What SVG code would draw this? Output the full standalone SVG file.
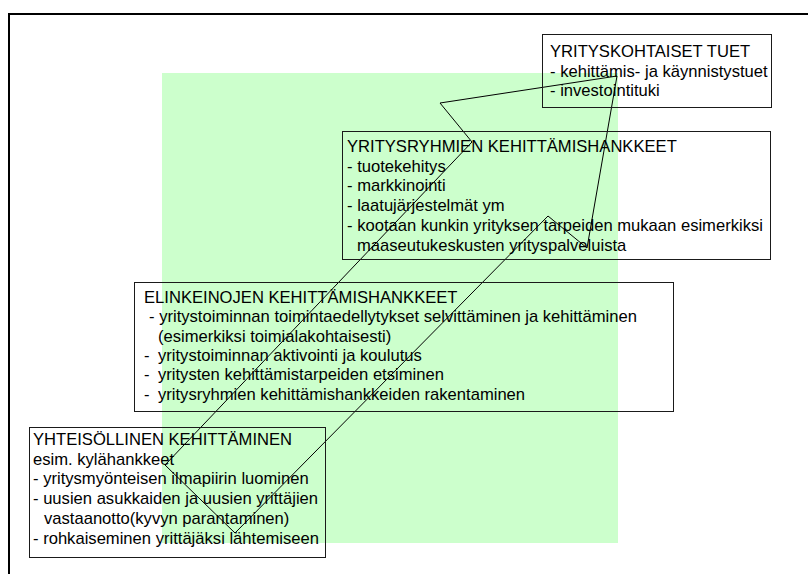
<svg xmlns="http://www.w3.org/2000/svg" width="808" height="574" viewBox="0 0 808 574">
  <style>
    .box { fill: none; stroke: #1a1a1a; stroke-width: 1; }
    .t { font-family: "Liberation Sans", Arial, sans-serif; font-size: 16.6px; fill: #000; }
    .arrow { fill: none; stroke: #000; stroke-width: 1; stroke-linejoin: miter; }
  </style>

  <!-- page frame -->
  <path d="M9,574 V14 H808" fill="none" stroke="#000" stroke-width="2"/>

  <!-- light green background area -->
  <rect x="162" y="73" width="456" height="470" fill="#ccffcc"/>

  <!-- large block arrow rising from the community level to the company level -->
  <g id="connectors">
    <polygon class="arrow" points="617,76 587,248 548,216 235,533 165,465 472,142 440,103"/>
  </g>

  <g id="yrityskohtaiset">
    <rect class="box" x="542.5" y="34.5" width="229" height="73"/>
    <text class="t" x="550" y="57">YRITYSKOHTAISET TUET</text>
    <text class="t" x="550" y="77">- kehittämis- ja käynnistystuet</text>
    <text class="t" x="550" y="96">- investointituki</text>
  </g>

  <g id="yritysryhmien">
    <rect class="box" x="342.5" y="131.5" width="428" height="128"/>
    <text class="t" x="347" y="152">YRITYSRYHMIEN KEHITTÄMISHANKKEET</text>
    <text class="t" x="347" y="172">- tuotekehitys</text>
    <text class="t" x="347" y="191">- markkinointi</text>
    <text class="t" x="347" y="211">- laatujärjestelmät ym</text>
    <text class="t" x="347" y="231">- kootaan kunkin yrityksen tarpeiden mukaan esimerkiksi</text>
    <text class="t" x="357" y="251">maaseutukeskusten yrityspalveluista</text>
  </g>

  <g id="elinkeinojen">
    <rect class="box" x="134.5" y="282.5" width="539" height="129"/>
    <text class="t" x="144" y="303">ELINKEINOJEN KEHITTÄMISHANKKEET</text>
    <text class="t" x="149" y="322">- yritystoiminnan toimintaedellytykset selvittäminen ja kehittäminen</text>
    <text class="t" x="158" y="342">(esimerkiksi toimialakohtaisesti)</text>
    <text class="t" y="361"><tspan x="144">-</tspan><tspan x="158">yritystoiminnan aktivointi ja koulutus</tspan></text>
    <text class="t" y="380"><tspan x="144">-</tspan><tspan x="158">yritysten kehittämistarpeiden etsiminen</tspan></text>
    <text class="t" y="400"><tspan x="144">-</tspan><tspan x="158">yritysryhmien kehittämishankkeiden rakentaminen</tspan></text>
  </g>

  <g id="yhteisollinen">
    <rect class="box" x="29.5" y="427.5" width="296" height="130"/>
    <text class="t" x="33" y="445">YHTEISÖLLINEN KEHITTÄMINEN</text>
    <text class="t" x="33" y="465">esim. kylähankkeet</text>
    <text class="t" x="33" y="484">- yritysmyönteisen ilmapiirin luominen</text>
    <text class="t" x="33" y="504">- uusien asukkaiden ja uusien yrittäjien</text>
    <text class="t" x="44" y="524">vastaanotto(kyvyn parantaminen)</text>
    <text class="t" x="33" y="544">- rohkaiseminen yrittäjäksi lähtemiseen</text>
  </g>
</svg>
